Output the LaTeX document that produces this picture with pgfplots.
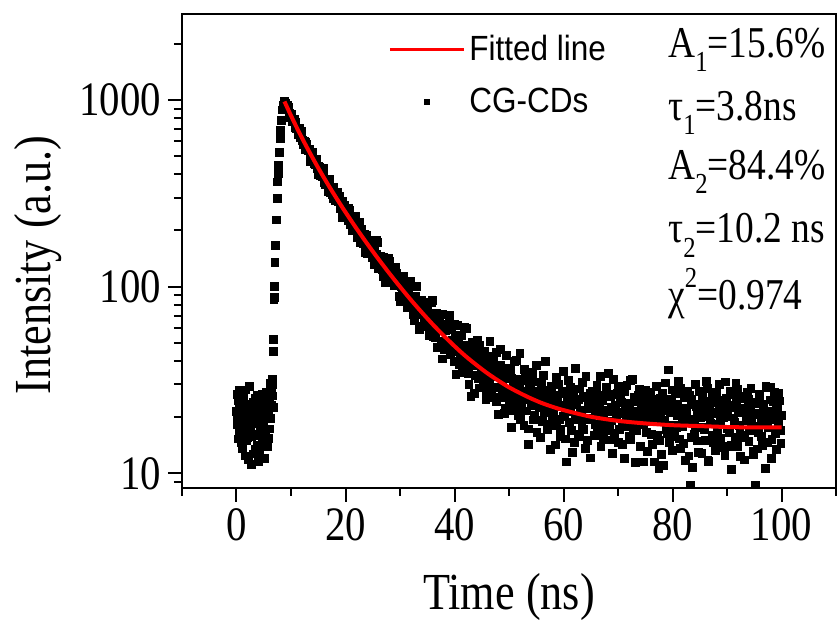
\documentclass[border=0pt]{standalone}
\usepackage{fontspec}
\setmainfont{Liberation Serif}[FakeStretch=0.85]
\newfontfamily\legendfont{Liberation Sans}[FakeStretch=0.9]
\usepackage{pgfplots}
\usepackage{pgfplotstable}
\pgfplotsset{compat=1.18}
\newcommand\sub[1]{\raisebox{-0.32em}{\fontsize{14.5}{14.5}\selectfont #1}}
\newcommand\sups[1]{\raisebox{0.5em}{\fontsize{14.5}{14.5}\selectfont #1}}
\pgfplotstableread{
t y
0.00 21.5
0.15 18.2
0.30 24.6
0.45 16.9
0.60 27.8
0.75 19.5
0.90 14.7
1.05 22.3
1.20 17.4
1.35 25.8
1.50 20.6
1.65 12.4
1.80 18.9
1.95 23.1
2.10 15.6
2.25 21.0
2.40 29.3
2.55 17.8
2.70 11.2
2.85 19.7
3.00 24.0
3.15 16.2
3.30 22.7
3.45 13.5
3.60 20.1
3.75 26.3
3.90 18.4
4.05 11.6
4.20 21.8
4.35 16.8
4.50 25.0
4.65 19.2
4.80 14.3
4.95 23.6
5.10 12.0
5.25 20.5
5.40 17.1
5.55 27.2
5.70 22.0
5.85 15.4
6.00 24.8
6.15 30.5
6.30 19.6
6.45 26.9
6.60 32.0
6.70 22.5
6.75 45
6.80 52
6.85 85
6.90 88
6.95 100
7.05 135
7.15 167
7.30 228
7.45 298
7.55 364
7.65 406
7.72 449
7.85 526
8.00 625
8.10 690
8.25 781
8.40 884
8.55 940
8.70 985
8.85 990
9.00 963
9.25 896
9.50 917
9.75 853
10.00 842
10.25 768
10.50 774
10.75 763
11.00 706
11.25 692
11.50 707
11.75 631
12.00 634
12.25 575
12.50 600
12.75 594
13.00 544
13.25 535
13.50 495
13.75 520
14.00 526
14.25 459
14.50 469
14.75 440
15.00 400
15.25 438
15.50 409
15.75 388
16.00 409
16.25 354
16.50 374
16.75 351
17.00 377
17.25 321
17.50 331
17.75 297
18.00 321
18.25 293
18.50 321
18.75 288
19.00 262
19.25 277
19.50 234
19.75 274
20.00 246
20.25 256
20.50 225
20.75 256
21.00 227
21.25 199
21.50 230
21.75 204
22.00 209
22.25 184
22.50 220
22.75 183
23.00 189
23.25 171
23.50 191
23.75 180
24.00 150
24.25 173
24.50 161
24.75 173
25.00 144
25.25 157
25.50 141
25.75 177
26.00 125
26.25 139
26.50 145
26.75 124
27.00 144
27.25 105
27.50 127
27.75 117
28.00 136
28.25 105
28.50 120
28.75 111
29.00 101
29.25 127
29.50 101
29.75 109
30.00 83
30.25 100
30.50 109
30.75 85
31.00 97
31.25 77
31.50 97
31.75 85
32.00 102
32.25 78
32.50 71
32.75 85
33.00 100
33.25 72.5
33.50 76
33.75 61
34.00 81
34.25 71
34.50 81
34.75 61.5
35.00 70.5
35.25 72
35.50 54.6
35.75 82
36.00 61
36.25 61.7
36.50 53.6
36.75 72
37.00 47.6
37.25 63.5
37.50 59
37.75 41
38.00 62.8
38.25 50.9
38.50 60
38.75 47.2
39.00 70
39.25 43.3
39.50 51
39.75 46.8
40.00 63
40.25 34
40.50 51
40.75 53
41.00 40.5
41.25 54.5
41.50 34.5
41.75 46.4
42.00 41.7
42.25 59.5
42.50 34.4
42.75 41.5
43.00 25.9
43.25 50.4
43.50 43.8
43.75 33.3
44.00 39.5
44.25 51.4
44.50 28.7
44.75 33.4
45.00 43.6
45.25 34.2
45.50 45.3
45.75 25.0
46.00 37.4
46.25 28.2
46.50 50.9
46.75 33.2
47.00 25.6
47.25 37.6
47.50 29.0
47.75 44.3
48.00 20.7
48.25 33.1
48.50 37.9
48.75 26.4
49.00 33.5
49.25 22.4
49.50 42.8
49.75 27.4
50.00 23.6
50.25 35.9
50.50 17.6
50.75 29.6
51.00 39.8
51.25 25.0
51.50 31.9
51.75 20.5
52.00 44.0
52.25 22.9
52.50 27.2
52.75 18.0
53.00 34.5
53.25 31.7
53.50 14.3
53.75 28.1
54.00 23.9
54.25 34.8
54.50 19.3
54.75 24.7
55.00 37.7
55.25 19.3
55.50 27.4
55.75 15.6
56.00 29.9
56.25 24.9
56.50 21.2
56.75 39.8
57.00 17.1
57.25 26.9
57.50 22.3
57.75 29.4
58.00 19.5
58.25 24.4
58.50 14.2
58.75 32.6
59.00 22.8
59.25 19.5
59.50 15.8
59.75 26.8
60.00 35.3
60.25 20.6
60.50 11.5
60.75 25.0
61.00 21.4
61.25 28.9
61.50 16.9
61.75 23.4
62.00 14.7
62.25 36.5
62.50 19.3
62.75 24.8
63.00 15.7
63.25 21.7
63.50 30.8
63.75 17.2
64.00 13.6
64.25 25.5
64.50 23.0
64.75 19.7
65.00 12.1
65.25 27.5
65.50 22.8
65.75 18.3
66.00 27.4
66.25 16.7
66.50 25.2
66.75 33.0
67.00 19.9
67.25 15.5
67.50 21.8
67.75 26.1
68.00 18.8
68.25 34.2
68.50 17.2
68.75 22.6
69.00 12.8
69.25 26.5
69.50 23.0
69.75 19.9
70.00 29.1
70.25 17.1
70.50 24.5
70.75 14.3
71.00 21.2
71.25 27.3
71.50 19.6
71.75 23.4
72.00 15.8
72.25 31.4
72.50 20.3
72.75 17.4
73.00 25.5
73.25 11.4
73.50 21.4
73.75 26.2
74.00 18.2
74.25 23.4
74.50 19.8
74.75 11.5
75.00 27.8
75.25 16.6
75.50 22.0
75.75 24.6
76.00 19.3
76.25 14.3
76.50 23.8
76.75 21.0
77.00 29.2
77.25 15.9
77.50 10.6
77.75 25.3
78.00 12.6
78.25 21.8
78.50 19.2
78.75 30.5
79.00 16.4
79.25 35.8
79.50 18.0
79.75 24.0
80.00 13.2
80.25 21.9
80.50 26.9
80.75 17.5
81.00 23.1
81.25 15.3
81.50 28.4
81.75 20.0
82.00 14.4
82.25 22.4
82.50 18.9
82.75 27.6
83.00 12.4
83.25 8.6
83.50 24.8
83.75 19.4
84.00 16.2
84.25 29.9
84.50 21.4
84.75 12.9
85.00 23.5
85.25 17.7
85.50 26.0
85.75 20.2
86.00 15.0
86.25 31.0
86.50 11.7
86.75 22.6
87.00 18.5
87.25 25.4
87.50 14.6
87.75 20.9
88.00 27.1
88.25 16.8
88.50 23.7
88.75 19.0
89.00 13.7
89.25 24.5
89.50 21.5
89.75 30.9
90.00 17.3
90.25 14.0
90.50 22.5
90.75 10.5
91.00 26.4
91.25 19.6
91.50 15.6
91.75 23.9
92.00 28.2
92.25 18.1
92.50 12.3
92.75 21.2
93.00 25.2
93.25 16.0
93.50 20.4
93.75 27.0
94.00 14.8
94.25 22.9
94.50 18.7
94.75 13.1
95.00 24.1
95.25 8.6
95.50 20.7
95.75 16.5
96.00 26.6
96.25 19.2
96.50 14.1
96.75 23.3
97.00 10.6
97.25 28.9
97.50 17.6
97.75 21.5
98.00 29.0
98.25 15.2
98.50 24.3
98.75 19.8
99.00 13.4
99.25 22.1
99.50 26.8
99.75 17.0
100.00 20.5
}\datatable
\pgfplotstableread{
t y
0.075 19.6
0.225 26.4
0.375 15.3
0.525 22.9
0.675 17.6
0.825 24.1
0.975 20.0
1.125 13.6
1.275 21.7
1.425 16.4
1.575 19.3
1.725 28.0
1.875 14.9
2.025 20.8
2.175 11.9
2.325 17.0
2.475 23.5
2.625 19.0
2.775 15.8
2.925 21.4
3.075 12.7
3.225 18.6
3.375 25.1
3.525 16.0
3.675 22.2
3.825 14.2
3.975 19.4
4.125 23.0
4.275 12.9
4.425 20.3
4.575 17.5
4.725 26.5
4.875 18.1
5.025 21.1
5.175 15.0
5.325 23.9
5.475 19.9
5.625 14.0
5.775 25.6
5.925 20.7
6.075 17.3
6.225 28.6
6.375 23.2
6.525 29.9
6.650 26.0
9.125 923
9.375 935
9.625 880
9.875 809
10.125 829
10.375 779
10.625 791
10.875 713
11.125 708
11.375 657
11.625 674
11.875 681
12.125 605
12.375 604
12.625 546
12.875 581
13.125 538
13.375 542
13.625 469
13.875 522
14.125 480
14.375 451
14.625 482
14.875 432
15.125 443
15.375 392
15.625 405
15.875 431
16.125 363
16.375 378
16.625 357
16.875 324
17.125 358
17.375 335
17.625 312
17.875 340
18.125 289
18.375 305
18.625 286
18.875 305
19.125 266
19.375 286
19.625 266
19.875 234
20.125 261
20.375 238
20.625 262
20.875 215
21.125 226
21.375 202
21.625 222
21.875 237
22.125 195
22.375 203
22.625 172
22.875 203
23.125 180
23.375 189
23.625 153
23.875 188
24.125 168
24.375 155
24.625 177
24.875 152
25.125 166
25.375 132
25.625 149
25.875 173
26.125 127
26.375 143
26.625 132
26.875 113
27.125 141
27.375 128
27.625 115
27.875 141
28.125 105
28.375 121
28.625 110
28.875 125
29.125 103
29.375 118
29.625 106
29.875 89
30.125 108
30.375 95
30.625 114
30.875 84
31.125 92
31.375 79
31.625 94
31.875 107
32.125 78.5
32.375 86
32.625 66
32.875 89
33.125 75
33.375 82.5
33.625 59
33.875 85
34.125 72
34.375 64.6
34.625 82.8
34.875 65.3
35.125 76
35.375 55
35.625 66.5
35.875 84.8
36.125 54.3
36.375 65.6
36.625 59.3
36.875 47.4
37.125 67.6
37.375 59.5
37.625 51
37.875 70.8
38.125 45.9
38.375 57.9
38.625 51
38.875 62.6
39.125 47.4
39.375 59
39.625 51.3
39.875 39.9
40.125 55.2
40.375 45.2
40.625 62
40.875 38.5
41.125 45.6
41.375 36
41.625 48.6
41.875 60.7
42.125 37.8
42.375 44.8
42.625 30
42.875 48.7
43.125 37.8
43.375 44.8
43.625 26.9
43.875 48.8
44.125 37.8
44.375 32.2
44.625 48.6
44.875 33.8
45.125 40.2
45.375 30.1
45.625 38.9
45.875 27.3
46.125 42.5
46.375 31.0
46.625 36.7
46.875 26.1
47.125 40.8
47.375 34.6
47.625 24.3
47.875 35.4
48.125 28.8
48.375 46.2
48.625 25.5
48.875 31.9
49.125 21.0
49.375 33.8
49.625 27.8
49.875 36.6
50.125 25.3
50.375 32.3
50.625 21.6
50.875 30.4
51.125 26.2
51.375 40.3
51.625 23.5
51.875 29.2
52.125 19.4
52.375 31.3
52.625 24.8
52.875 35.9
53.125 21.6
53.375 27.4
53.625 17.3
53.875 29.0
54.125 23.2
54.375 31.8
54.625 20.4
54.875 27.0
55.125 16.6
55.375 30.9
55.625 22.5
55.875 26.3
56.125 19.0
56.375 33.5
56.625 21.8
56.875 27.8
57.125 18.2
57.375 24.1
57.625 13.4
57.875 28.1
58.125 20.9
58.375 26.3
58.625 18.0
58.875 24.5
59.125 29.8
59.375 17.2
59.625 23.2
59.875 20.1
60.125 27.6
60.375 15.3
60.625 24.0
60.875 31.5
61.125 18.7
61.375 22.9
61.625 13.0
61.875 26.2
62.125 19.9
62.375 24.1
62.625 16.2
62.875 28.3
63.125 21.0
63.375 17.8
63.625 25.9
63.875 19.3
64.125 33.1
64.375 15.0
64.625 22.3
64.875 26.7
65.125 19.4
65.375 24.7
65.625 15.9
65.875 21.3
66.125 29.6
66.375 18.1
66.625 23.1
66.875 13.9
67.125 24.4
67.375 20.6
67.625 17.0
67.875 28.8
68.125 21.5
68.375 15.1
68.625 25.8
68.875 19.1
69.125 31.8
69.375 16.3
69.625 22.0
69.875 26.7
70.125 14.6
70.375 20.8
70.625 24.0
70.875 18.4
71.125 12.0
71.375 23.6
71.625 29.5
71.875 17.9
72.125 21.9
72.375 15.2
72.625 32.0
72.875 19.7
73.125 24.3
73.375 16.9
73.625 20.2
73.875 28.3
74.125 14.0
74.375 22.5
74.625 18.5
74.875 25.4
75.125 21.2
75.375 13.1
75.625 19.0
75.875 27.2
76.125 16.1
76.375 22.8
76.625 11.5
76.875 25.0
77.125 19.5
77.375 23.2
77.625 15.0
77.875 20.6
78.125 26.8
78.375 11.0
78.625 22.2
78.875 17.2
79.125 24.8
79.375 14.7
79.625 21.1
79.875 28.0
80.125 18.0
80.375 15.8
80.625 23.5
80.875 20.5
81.125 31.2
81.375 13.6
81.625 22.0
81.875 17.8
82.125 25.5
82.375 11.7
82.625 21.0
82.875 19.2
83.125 26.1
83.375 15.6
83.625 10.7
83.875 23.3
84.125 18.0
84.375 22.7
84.625 14.9
84.875 27.4
85.125 20.0
85.375 12.8
85.625 24.2
85.875 17.1
86.125 21.8
86.375 28.5
86.625 11.6
86.875 19.6
87.125 23.9
87.375 16.0
87.625 25.9
87.875 13.3
88.125 21.3
88.375 18.4
88.625 29.8
88.875 15.4
89.125 22.3
89.375 19.8
89.625 12.5
89.875 25.1
90.125 20.2
90.375 16.6
90.625 27.6
90.875 14.2
91.125 23.0
91.375 18.7
91.625 30.4
91.875 13.9
92.125 21.6
92.375 17.4
92.625 25.7
92.875 15.5
93.125 11.8
93.375 22.4
93.625 19.1
93.875 24.9
94.125 16.9
94.375 28.4
94.625 20.9
94.875 12.6
95.125 23.7
95.375 17.9
95.625 13.5
95.875 26.2
96.125 21.0
96.375 15.7
96.625 22.8
96.875 18.6
97.125 29.4
97.375 14.6
97.625 20.3
97.875 24.7
98.125 12.0
98.375 19.4
98.625 27.3
98.875 16.4
99.125 22.9
99.375 18.2
99.625 24.4
99.875 14.5
}\datatabletwo
\pgfplotstableread{
t y
8.8 982
9 953.5
10 824.7
11 717.5
12 627.7
13 551.9
14 487.6
15 432.6
16 385.3
17 344.4
18 308.9
19 277.8
20 250.5
22 205.2
24 169.5
26 141.1
28 118.3
30 99.9
32 84.9
34 72.8
36 62.8
38 54.7
40 48.0
42 42.5
44 38.1
46 34.4
48 31.4
50 28.9
52 26.9
54 25.2
56 23.8
58 22.7
60 21.8
65 20.1
70 19.1
75 18.5
80 18.1
85 17.9
90 17.7
95 17.6
100 17.6
}\fittable
\begin{document}
\begin{tikzpicture}
\begin{axis}[
  name=ax,
  width=327pt, height=237pt, scale only axis,
  xmin=-10, xmax=110,
  ymode=log, ymin=8.34, ymax=2890,
  clip marker paths=true,
  axis line style={line width=1pt},
  every tick/.style={black, line width=1pt},
  tick align=outside, tick pos=left,
  major tick length=7pt, minor tick length=4pt,
  xtick={0,20,40,60,80,100}, xticklabels={0,20,40,60,80,100},
  minor xtick={-10,10,30,50,70,90,110},
  ytick={10,100,1000}, yticklabels={10,100,1000},
  minor ytick={8,9,20,30,40,50,60,70,80,90,200,300,400,500,600,700,800,900,2000},
  ticklabel style={font=\fontsize{24}{24}\selectfont},
  xlabel={Time (ns)}, ylabel={Intensity (a.u.)},
  label style={font=\fontsize{26}{26}\selectfont},
  xlabel style={at={(axis description cs:0.5,-0.257)}, anchor=base},
  ylabel style={at={(axis description cs:-0.22,0.47)}, anchor=center},
  legend style={draw=none, fill=none, at={(rel axis cs:0.315,0.965)}, anchor=north west,
    font=\legendfont\fontsize{17.5}{17.5}\selectfont, row sep=8.5pt, inner sep=0pt},
  legend cell align=left,
]
\coordinate (bl) at (rel axis cs:0,0);
\coordinate (tr) at (rel axis cs:1,1);
\addplot[only marks, mark=square*, mark size=1.95pt, black, forget plot] table[x=t,y=y] {\datatable};
\addplot[only marks, mark=square*, mark size=1.95pt, black, forget plot] table[x=t,y=y] {\datatabletwo};
\addplot[red, line width=2pt, smooth, no marks,
  legend image code/.code={\draw[red, line width=1.5pt] (0pt,0pt) -- (37pt,0pt);}] table[x=t,y=y] {\fittable};
\addlegendentry{Fitted line}
\addlegendimage{only marks, mark=square*, mark size=1.4pt, black,
  legend image code/.code={\draw[black] plot[only marks, mark=square*, mark size=1.4pt] coordinates {(18.5pt,0pt)};}}
\addlegendentry{CG-CDs}
\node[anchor=base west, font=\fontsize{22}{22}\selectfont, inner sep=0pt] at (rel axis cs:0.743,0.909) {A\sub{1}=15.6\%};
\node[anchor=base west, font=\fontsize{22}{22}\selectfont, inner sep=0pt] at (rel axis cs:0.743,0.776) {τ\sub{1}=3.8ns};
\node[anchor=base west, font=\fontsize{22}{22}\selectfont, inner sep=0pt] at (rel axis cs:0.743,0.650) {A\sub{2}=84.4\%};
\node[anchor=base west, font=\fontsize{22}{22}\selectfont, inner sep=0pt] at (rel axis cs:0.743,0.517) {τ\sub{2}=10.2 ns};
\node[anchor=base west, font=\fontsize{22}{22}\selectfont, inner sep=0pt] at (rel axis cs:0.743,0.376) {χ\sups{2}=0.974};
\end{axis}
\pgfresetboundingbox
\path ([shift={(-91pt,-67.5pt)}]bl) rectangle ([shift={(1pt,7pt)}]tr);
\end{tikzpicture}
\end{document}
